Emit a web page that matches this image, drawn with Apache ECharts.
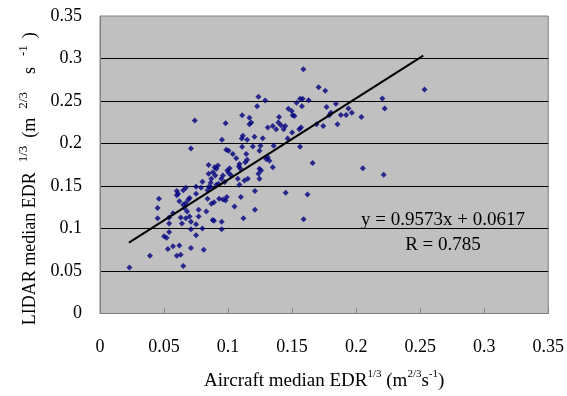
<!DOCTYPE html>
<html>
<head>
<meta charset="utf-8">
<script src="https://cdn.jsdelivr.net/npm/echarts@6/dist/echarts.min.js"></script>
<style>html,body{margin:0;padding:0;background:#fff}#c{width:567px;height:396px}</style>
</head>
<body>
<div id="c"></div>
<script>
// Aircraft median EDR^(1/3) (x) vs LIDAR median EDR^(1/3) (y)
var aircraftEDR = [
0.023,0.039,0.046,0.045,0.045,0.050,0.052,0.054,0.053,0.057,0.062,0.060,0.063,0.065,0.054,0.054,0.057,0.063,0.064,0.067,
0.070,0.071,0.071,0.075,0.071,0.075,0.081,0.077,0.077,0.080,0.083,0.095,0.095,0.088,0.089,0.060,0.061,0.060,0.065,0.067,
0.062,0.065,0.067,0.069,0.070,0.066,0.068,0.075,0.075,0.079,0.080,0.084,0.084,0.087,0.089,0.093,0.096,0.099,0.098,0.085,
0.087,0.105,0.110,0.121,0.121,0.112,0.145,0.162,0.159,0.166,0.074,0.071,
0.1237,0.1227,0.1290,0.1110,0.1167,0.1181,0.1167,0.0981,0.1398,0.1471,0.1497,0.1504,0.1393,0.1414,0.1434,0.1447,0.1375,0.1310,0.1349,0.1206,
0.1115,0.1107,0.1149,0.1271,0.0952,0.1465,0.1500,0.0986,0.1004,0.1037,0.1110,0.1193,0.1253,0.1356,0.1142,0.1149,0.1134,0.1064,0.1089,0.1084,
0.1097,0.1245,0.1297,0.1310,0.1323,0.1349,0.1245,0.1258,0.1237,0.1245,0.1154,0.1012,0.0994,0.1006,0.1025,0.0921,0.0895,0.0908,0.0882,0.0900,
0.0848,0.0960,0.0947,0.0973,0.1076,0.1128,0.1089,0.0848,0.0869,0.0864,0.0908,0.0926,
0.1588,0.1707,0.1759,0.1562,0.1582,0.1629,0.1535,0.1577,0.1518,0.1769,0.1842,0.1803,0.1790,0.1854,0.1743,0.1691,0.1570,0.1556,0.1562,
0.2534,0.2205,0.2223,0.2041,0.1940,0.1966,0.1881,0.1922,0.2052,0.2215
];
var lidarEDR = [
0.054,0.068,0.135,0.124,0.112,0.091,0.089,0.096,0.076,0.079,0.080,0.068,0.069,0.056,0.106,0.113,0.118,0.113,0.106,0.112,
0.114,0.108,0.099,0.105,0.077,0.092,0.075,0.122,0.114,0.100,0.120,0.099,0.108,0.110,0.109,0.144,0.141,0.139,0.145,0.148,
0.132,0.128,0.130,0.134,0.136,0.124,0.120,0.141,0.149,0.148,0.155,0.145,0.135,0.129,0.131,0.135,0.134,0.137,0.133,0.149,
0.148,0.126,0.137,0.144,0.122,0.112,0.142,0.140,0.111,0.177,0.227,0.194,
0.2549,0.2439,0.2506,0.2331,0.2304,0.2246,0.2226,0.2238,0.2311,0.2409,0.2381,0.2331,0.2246,0.2214,0.2168,0.2206,0.2168,0.2188,0.2206,0.2078,
0.2090,0.2059,0.2043,0.2063,0.2043,0.2059,0.2129,0.1927,0.1915,0.1876,0.1962,0.1966,0.1973,0.1973,0.1876,0.1810,0.1780,0.1826,0.1760,0.1728,
0.1702,0.1915,0.1818,0.1838,0.1798,0.1721,0.1702,0.1682,0.1643,0.1585,0.1585,0.1710,0.1682,0.1652,0.1624,0.1740,0.1721,0.1702,0.1663,0.1624,
0.1748,0.1624,0.1585,0.1547,0.1585,0.1565,0.1515,0.1643,0.1585,0.1538,0.1515,0.1527,
0.2875,0.2661,0.2622,0.2526,0.2526,0.2509,0.2479,0.2439,0.2323,0.2428,0.2467,0.2362,0.2331,0.2226,0.2206,0.2226,0.2188,0.2168,0.1962,
0.2634,0.2529,0.2413,0.2311,0.2413,0.2362,0.2335,0.2335,0.1710,0.1632
];
var trendX = [0.0226, 0.2524];
var trendY = [0.0833, 0.3033];
var axisTicks = [0, 0.05, 0.1, 0.15, 0.2, 0.25, 0.3, 0.35];
var equationText = 'y = 0.9573x + 0.0617';
var rText = 'R = 0.785';

var points = aircraftEDR.map(function (x, i) { return [x, lidarEDR[i]]; });
var trend = trendX.map(function (x, i) { return [x, trendY[i]]; });

var serif = '"Liberation Serif", "Times New Roman", serif';
var richX = {
  b: { fontFamily: serif, fontSize: 19, color: '#000', lineHeight: 26 },
  sup: { fontFamily: serif, fontSize: 11, color: '#000', lineHeight: 11, verticalAlign: 'top' }
};
var richY = {
  b: { fontFamily: serif, fontSize: 18, color: '#000', lineHeight: 26 },
  e: { fontFamily: serif, fontSize: 18, color: '#000', lineHeight: 26, padding: [0, 28, 0, 0] },
  y1: { fontFamily: serif, fontSize: 13, color: '#000', lineHeight: 13, verticalAlign: 'top', padding: [0, 8, 0, 10] },
  y2: { fontFamily: serif, fontSize: 13, color: '#000', lineHeight: 13, verticalAlign: 'top', padding: [0, 18, 0, 9] },
  y3: { fontFamily: serif, fontSize: 13, color: '#000', lineHeight: 13, verticalAlign: 'top', padding: [0, 7, 0, 11] }
};
function fmt(v) { return String(Math.round(v * 100) / 100); }

var chart = echarts.init(document.getElementById('c'), null, { renderer: 'canvas' });
chart.setOption({
  animation: false,
  backgroundColor: '#ffffff',
  grid: {
    left: 100, right: 17, top: 16, bottom: 80,
    show: true, backgroundColor: '#C0C0C0', borderColor: '#808080', borderWidth: 1
  },
  xAxis: {
    type: 'value', min: axisTicks[0], max: axisTicks[axisTicks.length - 1], interval: 0.05,
    axisLine: { show: true, lineStyle: { color: '#808080', width: 1 } },
    axisTick: { show: true, inside: true, length: 5, lineStyle: { color: '#808080' } },
    splitLine: { show: false },
    axisLabel: { formatter: fmt, fontFamily: serif, fontSize: 18, color: '#000', margin: 25 },
    name: '{b|Aircraft median EDR}{sup|1/3}{b| (m}{sup|2/3}{b|s}{sup|-1}{b|)}',
    nameLocation: 'middle', nameGap: 55,
    nameTextStyle: { rich: richX }
  },
  yAxis: {
    type: 'value', min: axisTicks[0], max: axisTicks[axisTicks.length - 1], interval: 0.05,
    axisLine: { show: true, lineStyle: { color: '#808080', width: 1 } },
    axisTick: { show: false },
    splitLine: { show: true, showMinLine: false, showMaxLine: false, lineStyle: { color: '#000', width: 1 } },
    axisLabel: { formatter: fmt, fontFamily: serif, fontSize: 18, color: '#000', margin: 18 },
    name: '{b|LIDAR median EDR}{y1|1/3}{b|(m}{y2|2/3}{b|s}{y3|-1}{e|)}',
    nameLocation: 'middle', nameGap: 57,
    nameTextStyle: { rich: richY }
  },
  series: [
    {
      type: 'scatter', data: points, symbol: 'diamond', symbolSize: 6,
      itemStyle: { color: '#000080' }, z: 3
    },
    {
      type: 'line', data: trend, symbol: 'none', silent: true,
      lineStyle: { color: '#000', width: 2 }, z: 4
    }
  ],
  graphic: [
    { type: 'text', x: 443, y: 220, style: { text: equationText, font: '19px ' + serif, fill: '#000', align: 'center', verticalAlign: 'middle' }, z: 10 },
    { type: 'text', x: 443, y: 245, style: { text: rText, font: '19px ' + serif, fill: '#000', align: 'center', verticalAlign: 'middle' }, z: 10 }
  ]
});
</script>
</body>
</html>
